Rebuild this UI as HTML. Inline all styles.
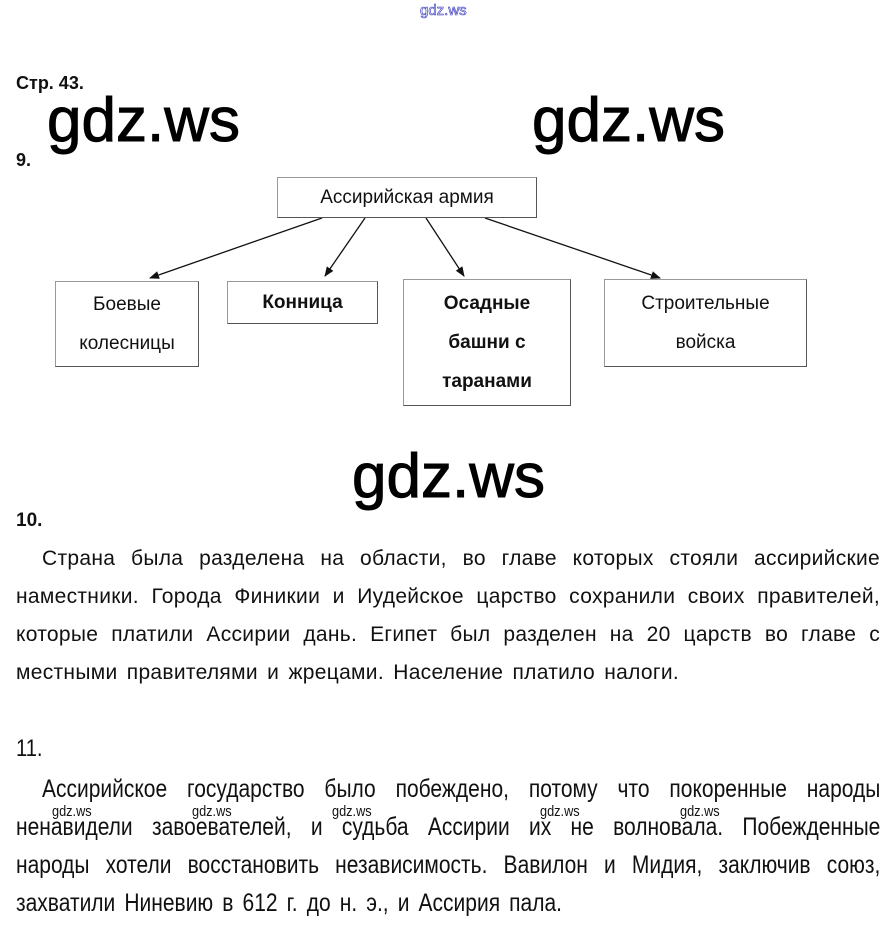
<!DOCTYPE html>
<html><head><meta charset="utf-8"><style>
body{margin:0;width:893px;height:932px;background:#fff;position:relative;overflow:hidden;font-family:"Liberation Sans",Arial,sans-serif;color:#111}
.a{position:absolute;white-space:nowrap}
.l{position:absolute;height:38px;line-height:38px;font-size:21px;letter-spacing:0.3px;text-align:justify;text-align-last:justify;white-space:nowrap;overflow:visible}
.c{transform:scaleX(0.84);transform-origin:0 0;font-size:25px;letter-spacing:0}
.wm{position:absolute;font-family:"Liberation Sans",sans-serif;font-size:62px;color:#000;line-height:1;-webkit-text-stroke:1px #000}
.sw{position:absolute;font-size:15px;transform:scaleX(0.85);transform-origin:0 0;line-height:1}
.box{position:absolute;border:1px solid #999;border-right:1.5px solid #555;border-bottom:1.5px solid #555;box-sizing:border-box;display:flex;align-items:center;justify-content:center;text-align:center;font-size:19px;line-height:39px}
</style></head><body>
<div class="a" style="left:420px;top:2px;font-size:15px;color:#fff;-webkit-text-stroke:0.6px #3030c0">gdz.ws</div>
<div class="a" style="left:16px;top:73px;font-size:18px;font-weight:bold">Стр. 43.</div>
<div class="a" style="left:16px;top:150px;font-size:18px;font-weight:bold">9.</div>
<div class="wm" style="left:47px;top:90px">gdz.ws</div>
<div class="wm" style="left:532px;top:90px">gdz.ws</div>
<div class="wm" style="left:352px;top:446px">gdz.ws</div>

<svg style="position:absolute;left:0;top:0" width="893" height="932">
<defs><marker id="ar" markerWidth="10" markerHeight="10" refX="9" refY="5" orient="auto" markerUnits="userSpaceOnUse"><path d="M0,1 L10,5 L0,9 z" fill="#111"/></marker></defs>
<g stroke="#111" stroke-width="1.3" fill="none">
<line x1="322" y1="218" x2="150" y2="278" marker-end="url(#ar)"/>
<line x1="365" y1="218" x2="325" y2="276" marker-end="url(#ar)"/>
<line x1="426" y1="218" x2="464" y2="276" marker-end="url(#ar)"/>
<line x1="485" y1="218" x2="660" y2="278" marker-end="url(#ar)"/>
</g></svg>

<div class="box" style="left:277px;top:177px;width:260px;height:41px">Ассирийская армия</div>
<div class="box" style="left:55px;top:281px;width:144px;height:86px">Боевые<br>колесницы</div>
<div class="box" style="left:227px;top:281px;width:151px;height:43px;font-weight:bold">Конница</div>
<div class="box" style="left:403px;top:279px;width:168px;height:127px;font-weight:bold">Осадные<br>башни с<br>таранами</div>
<div class="box" style="left:604px;top:279px;width:203px;height:88px">Строительные<br>войска</div>

<div class="a" style="left:16px;top:510px;font-size:19px;font-weight:bold">10.</div>
<div class="l" style="left:42px;top:540px;width:838px">Страна была разделена на области, во главе которых стояли ассирийские</div>
<div class="l" style="left:16px;top:578px;width:864px">наместники. Города Финикии и Иудейское царство сохранили своих правителей,</div>
<div class="l" style="left:16px;top:616px;width:864px">которые платили Ассирии дань. Египет был разделен на 20 царств во главе с</div>
<div class="l" style="left:16px;top:654px;width:663px">местными правителями и жрецами. Население платило налоги.</div>

<div class="a" style="left:16px;top:735px;font-size:24px;transform:scaleX(0.84);transform-origin:0 0">11.</div>
<div class="l c" style="left:42px;top:770px;width:998px">Ассирийское государство было побеждено, потому что покоренные народы</div>
<div class="l c" style="left:16px;top:808px;width:1029px">ненавидели завоевателей, и судьба Ассирии их не волновала. Побежденные</div>
<div class="l c" style="left:16px;top:846px;width:1029px">народы хотели восстановить независимость. Вавилон и Мидия, заключив союз,</div>
<div class="l c" style="left:16px;top:884px;width:650px">захватили Ниневию в 612 г. до н. э., и Ассирия пала.</div>

<div class="sw" style="left:52px;top:804px">gdz.ws</div>
<div class="sw" style="left:192px;top:804px">gdz.ws</div>
<div class="sw" style="left:332px;top:804px">gdz.ws</div>
<div class="sw" style="left:540px;top:804px">gdz.ws</div>
<div class="sw" style="left:680px;top:804px">gdz.ws</div>
</body></html>
